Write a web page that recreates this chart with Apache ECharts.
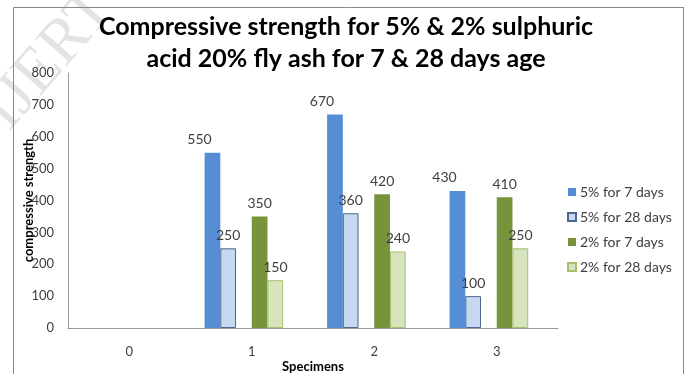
<!DOCTYPE html>
<html><head><meta charset="utf-8">
<script src="https://cdn.jsdelivr.net/npm/echarts@6/dist/echarts.min.js"></script>
<style>html,body{margin:0;padding:0;background:#fff;overflow:hidden}#c{width:688px;height:374px}</style>
</head><body><div id="c"></div>
<script>
const categories = ['0', '1', '2', '3'];
const s5d7 = ['-', 550, 670, 430];
const s5d28 = ['-', 250, 360, 100];
const s2d7 = ['-', 350, 420, 410];
const s2d28 = ['-', 150, 240, 250];
const yTicks = [0, 800, 100];

const chart = echarts.init(document.getElementById('c'));
const lbl = {show: true, position: 'top', distance: 6, fontFamily: 'Lato', fontSize: 14, color: '#404040'};
const empty = ['-', '-', '-', '-'];
chart.setOption({
  animation: false,
  textStyle: {fontFamily: 'Lato'},
  title: {
    text: 'Compressive strength for 5% & 2% sulphuric\nacid 20% fly ash for 7 & 28 days age',
    left: 341, top: 6, textAlign: 'center',
    textStyle: {fontFamily: 'Lato', fontWeight: 'bold', fontSize: 25, lineHeight: 32, color: '#000'}
  },
  graphic: [
    {type: 'text', x: -28, y: 100, rotation: 0.85, z: -1, silent: true,
      style: {text: 'IJERT', fontFamily: 'Liberation Serif', fontSize: 64, fill: 'rgba(0,0,0,0.11)'}},
    {type: 'rect', shape: {x: 13.5, y: 7.5, width: 670, height: 380}, style: {fill: 'none', stroke: '#888', lineWidth: 1}, silent: true}
  ],
  legend: {
    orient: 'vertical', left: 567, top: 185, padding: 0, itemGap: 11, itemWidth: 8, itemHeight: 8,
    icon: 'rect',
    data: ['5% for 7 days', '5% for 28 days', '2% for 7 days', '2% for 28 days'],
    textStyle: {fontFamily: 'Lato', fontSize: 14, lineHeight: 14, color: '#404040', padding: [0,0,0,-1]}
  },
  grid: {left: 68, width: 490, top: 73, height: 255, outerBoundsMode: 'none', containLabel: false},
  xAxis: {
    type: 'category', data: categories,
    name: 'Specimens', nameLocation: 'middle', nameGap: 32, nameMoveOverlap: false,
    nameTextStyle: {fontFamily: 'Lato', fontWeight: 'bold', fontSize: 13, color: '#000'},
    axisLine: {lineStyle: {color: '#9a9a9a'}}, axisTick: {show: false},
    axisLabel: {margin: 17, fontFamily: 'Lato', fontSize: 13, color: '#404040'}
  },
  yAxis: {
    type: 'value', min: yTicks[0], max: yTicks[1], interval: yTicks[2],
    name: 'compressive strength', nameLocation: 'middle', nameGap: 33, nameMoveOverlap: false,
    nameTextStyle: {fontFamily: 'Lato', fontWeight: 'bold', fontSize: 13, color: '#000'},
    axisLine: {show: true, lineStyle: {color: '#9a9a9a'}}, axisTick: {show: false},
    splitLine: {show: false},
    axisLabel: {margin: 14, fontFamily: 'Lato', fontSize: 13, color: '#404040'}
  },
  series: [
    {name: '5% for 7 days', type: 'bar', data: s5d7, barGap: '0%', barCategoryGap: '23%',
      itemStyle: {color: '#558ed5'}, label: Object.assign({}, lbl, {offset: [-13, 0]})},
    {name: '5% for 28 days', type: 'bar', data: s5d28,
      itemStyle: {color: '#c6d9f1', borderColor: '#4a6890', borderWidth: 1}, label: lbl},
    {name: 'blank1', type: 'bar', data: empty},
    {name: '2% for 7 days', type: 'bar', data: s2d7,
      itemStyle: {color: '#77933c'}, label: lbl},
    {name: '2% for 28 days', type: 'bar', data: s2d28,
      itemStyle: {color: '#d7e4bd', borderColor: '#a6c16e', borderWidth: 1}, label: lbl},
    {name: 'blank2', type: 'bar', data: empty}
  ]
});
</script></body></html>
